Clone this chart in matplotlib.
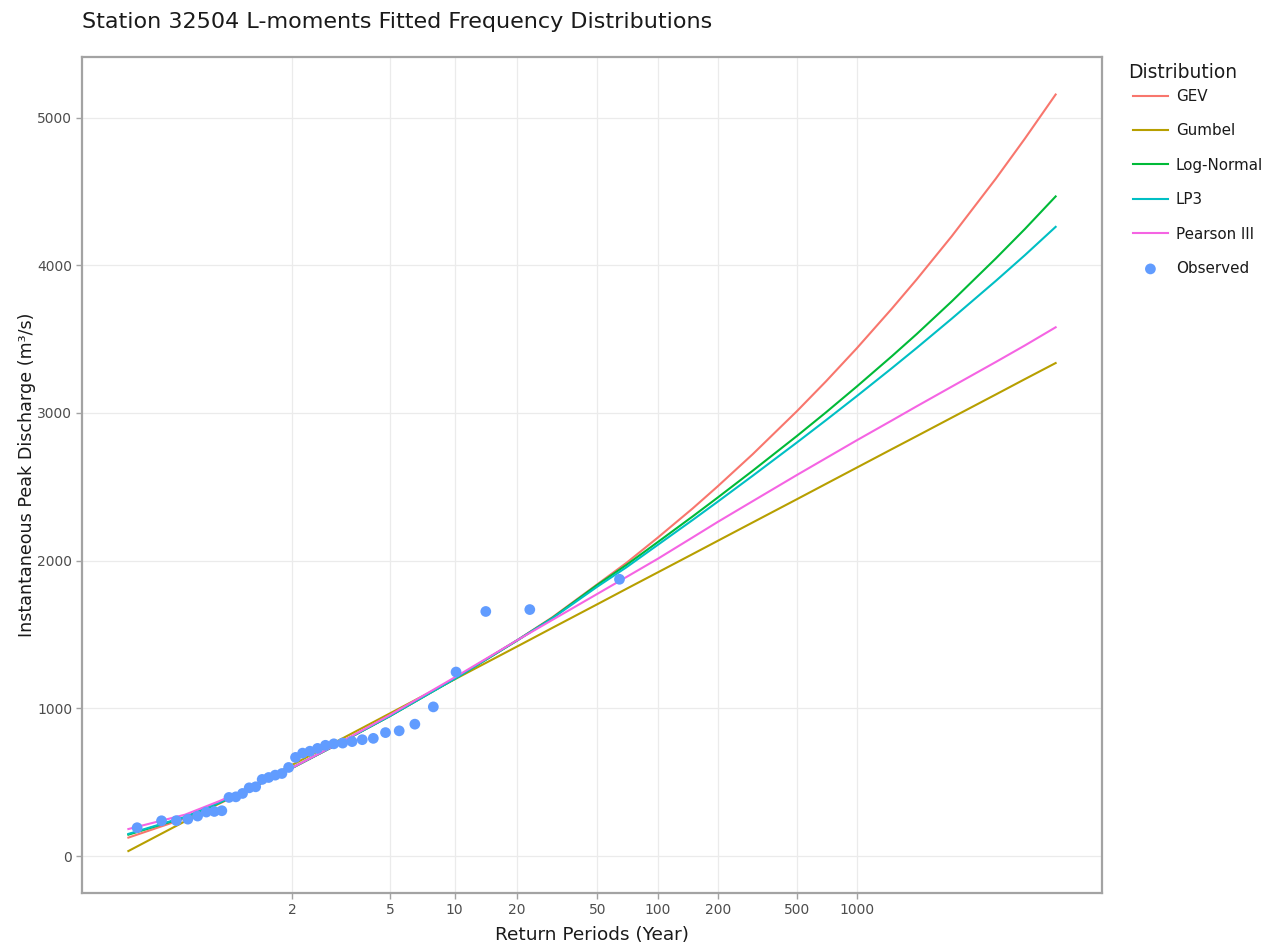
import numpy as np
import matplotlib
matplotlib.use("Agg")
import matplotlib.pyplot as plt
from matplotlib.ticker import FixedLocator, NullLocator, FixedFormatter

# ---------------- data ----------------
curve_T = [1.01, 1.1, 1.25, 1.5, 2, 3, 5, 10, 20, 30, 50, 70, 100, 150,
           200, 300, 500, 700, 1000, 1500, 2000, 3000, 5000, 7000, 10000]
gev = [125, 255, 355, 462, 595, 760, 948, 1200, 1460, 1618, 1840, 1986,
       2155, 2354, 2503, 2721, 3012, 3214, 3438, 3706, 3904, 4196, 4586,
       4857, 5156]
gumbel = [34, 235, 358, 476, 617, 782, 966, 1197, 1418, 1546, 1705, 1810,
          1920, 2045, 2134, 2259, 2416, 2520, 2630, 2755, 2843, 2968, 3125,
          3229, 3338]
lognormal = [145, 262, 360, 466, 597, 760, 948, 1200, 1458, 1614, 1836,
             1972, 2125, 2300, 2427, 2609, 2844, 3004, 3179, 3384, 3534,
             3755, 4046, 4245, 4466]
lp3 = [150, 265, 362, 467, 597, 760, 948, 1200, 1460, 1611, 1824, 1956,
       2106, 2276, 2399, 2575, 2800, 2951, 3114, 3303, 3440, 3638, 3894,
       4068, 4260]
pearson3 = [183, 280, 372, 470, 598, 762, 955, 1210, 1460, 1600, 1775,
            1890, 2012, 2158, 2262, 2403, 2580, 2694, 2815, 2949, 3045,
            3178, 3345, 3457, 3580]

obs_T = [64.50, 23.15, 14.11, 10.15, 7.921, 6.496, 5.506, 4.778, 4.220,
         3.778, 3.420, 3.125, 2.876, 2.664, 2.481, 2.321, 2.181, 2.057,
         1.946, 1.847, 1.757, 1.675, 1.601, 1.533, 1.471, 1.413, 1.360,
         1.311, 1.265, 1.222, 1.182, 1.1445, 1.1093, 1.0763, 1.0451, 1.0157]
obs_Q = [1874, 1669, 1656, 1246, 1010, 893, 848, 836, 797, 788, 775, 765,
         760, 750, 729, 710, 697, 668, 600, 559, 548, 532, 519, 469, 462,
         424, 401, 397, 307, 302, 298, 271, 250, 240, 239, 192]

x_ticks = [2, 5, 10, 20, 50, 100, 200, 500, 1000]
x_tick_labels = ["2", "5", "10", "20", "50", "100", "200", "500", "1000"]
y_ticks = [0, 1000, 2000, 3000, 4000, 5000]

series = [("GEV", gev, "#F8766D"),
          ("Gumbel", gumbel, "#B79F00"),
          ("Log-Normal", lognormal, "#00BA38"),
          ("LP3", lp3, "#00BFC4"),
          ("Pearson III", pearson3, "#F564E3")]
obs_color = "#619CFF"

# ---------------- Gumbel reduced-variate scale ----------------
def fwd(T):
    T = np.asarray(T, dtype=float)
    with np.errstate(all="ignore"):
        return -np.log(-np.log1p(-1.0 / T))

def inv(y):
    y = np.asarray(y, dtype=float)
    with np.errstate(all="ignore"):
        return 1.0 / (-np.expm1(-np.exp(-y)))

plt.rcParams["font.family"] = ["DejaVu Sans"]

W, H = 1276, 946
fig = plt.figure(figsize=(W / 100, H / 100), dpi=100)
L, R, T_, B = 82, 1102, 57, 893
ax = fig.add_axes([L / W, 1 - B / H, (R - L) / W, (B - T_) / H])
ax.set_xscale("function", functions=(fwd, inv))

for name, vals, col in series:
    ax.plot(curve_T, vals, color=col, lw=1.5, label=name, zorder=3,
            solid_joinstyle="round")
ax.scatter(obs_T, obs_Q, s=60, color=obs_color, edgecolors="none",
           label="Observed", zorder=4)

# limits: 5% expansion of data range in transformed space
all_T = curve_T + obs_T
ylo, yhi = fwd(min(all_T)), fwd(max(all_T))
pad = 0.05 * (yhi - ylo)
ax.set_xlim(inv(ylo - pad), inv(yhi + pad))
ax.set_ylim(-250, 5410)

ax.xaxis.set_major_locator(FixedLocator(x_ticks))
ax.xaxis.set_major_formatter(FixedFormatter(x_tick_labels))
ax.xaxis.set_minor_locator(NullLocator())
ax.set_yticks(y_ticks)
ax.yaxis.set_minor_locator(NullLocator())

ax.grid(True, color="#ebebeb", lw=0.9, zorder=0)
ax.set_axisbelow(True)
for s in ax.spines.values():
    s.set_color("#a3a3a3")
    s.set_linewidth(1.6)
ax.tick_params(direction="out", length=4, width=1, color="#a3a3a3",
               labelcolor="#4d4d4d", labelsize=10, pad=3)

fig.text(L / W, 1 - 22 / H, "Station 32504 L-moments Fitted Frequency Distributions",
         fontsize=16, color="#1a1a1a", ha="left", va="center")
fig.text((L + R) / 2 / W, 1 - 935 / H, "Return Periods (Year)",
         fontsize=13.3, color="#1a1a1a", ha="center", va="center")
fig.text(27 / W, 1 - ((T_ + B) / 2) / H, "Instantaneous Peak Discharge (m³/s)",
         fontsize=12.6, color="#1a1a1a", ha="center", va="center", rotation=90)

fig.text(1128 / W, 1 - 73 / H, "Distribution", fontsize=13.4,
         color="#1a1a1a", ha="left", va="center")
leg = ax.legend(loc="upper left", bbox_to_anchor=(1133 / W, 1 - 89 / H),
                bbox_transform=fig.transFigure, frameon=False,
                fontsize=10.9, handlelength=2.3, handletextpad=0.53,
                labelspacing=1.28, borderpad=0, borderaxespad=0)
for t in leg.get_texts():
    t.set_color("#1a1a1a")

fig.savefig("out.png", dpi=100, facecolor="white")
